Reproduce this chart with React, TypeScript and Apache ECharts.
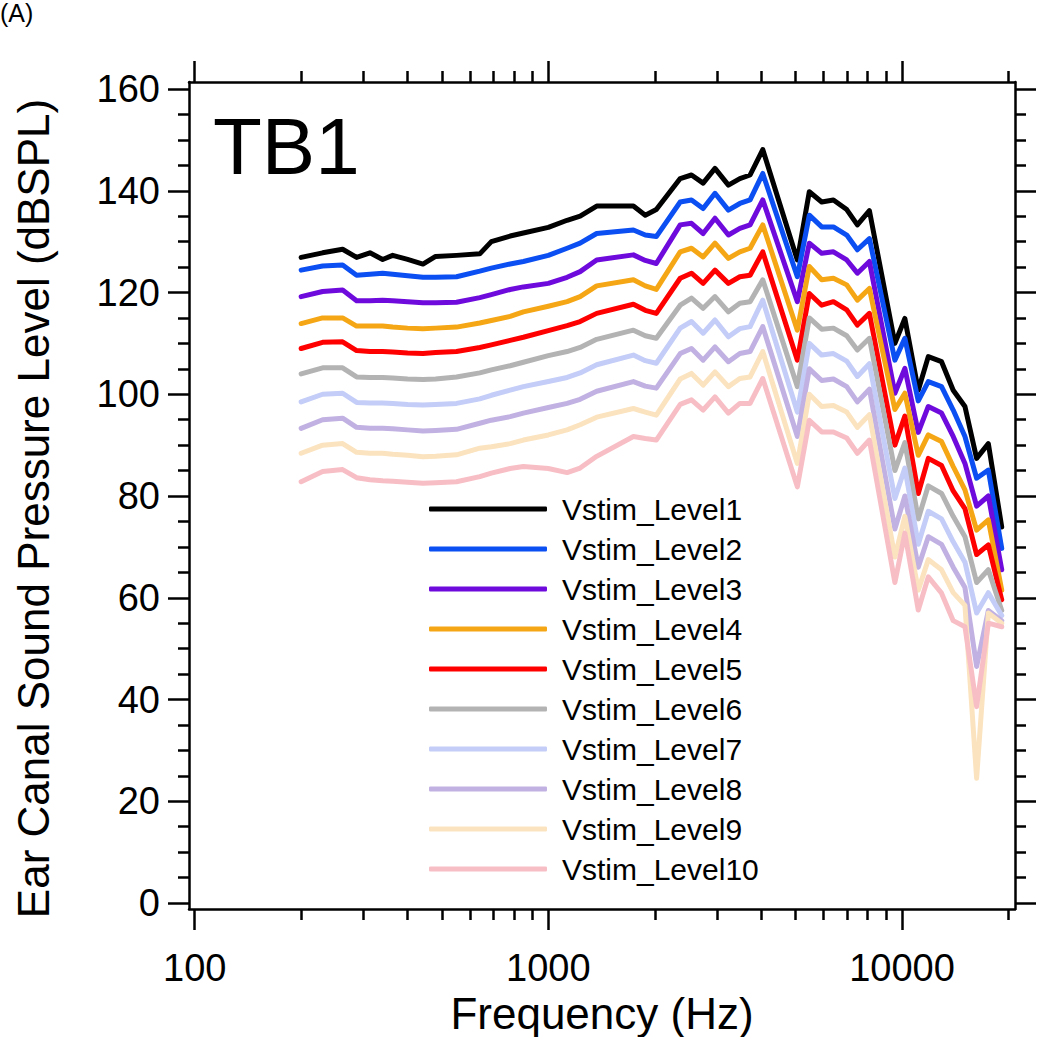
import React, { useEffect, useRef } from "react";
import * as echarts from "echarts";

// Frequencies (Hz) of the measured points
const FREQ = [200, 230, 262, 287, 313, 340, 363, 400, 442, 480, 550, 640, 690, 780, 850,
  1000, 1130, 1230, 1370, 1740, 1880, 2020, 2360, 2540, 2740, 2960, 3230, 3480, 3720, 4040,
  5060, 5470, 5930, 6400, 6980, 7480, 8090,
  9550, 10190, 11120, 11870, 12940, 13960, 15070, 16260, 17550, 19150];

const LEVEL1 = [126.9, 127.8, 128.5, 126.9, 127.8, 126.5, 127.3, 126.5, 125.6, 127.1, 127.3, 127.6, 130.0, 131.1, 131.7,
  132.8, 134.2, 135.0, 137.0, 137.0, 135.2, 136.3, 142.4, 143.1, 141.5, 144.4, 141.1, 142.4, 143.1, 148.1,
  126.4, 139.8, 137.8, 138.2, 136.3, 133.3, 136.1,
  110.0, 114.9, 100.8, 107.4, 106.4, 100.8, 97.6, 87.4, 90.3, 73.9];
const LEVEL2 = [124.4, 125.2, 125.4, 123.4, 123.6, 123.8, 123.6, 123.3, 123.0, 123.0, 123.1, 124.2, 124.8, 125.6, 126.1,
  127.3, 128.7, 129.7, 131.6, 132.3, 131.3, 131.0, 137.8, 138.2, 136.5, 139.5, 136.2, 137.5, 138.2, 143.4,
  123.1, 135.2, 132.9, 132.9, 131.3, 128.4, 130.6,
  106.7, 111.0, 98.7, 102.5, 101.5, 96.9, 91.7, 83.5, 85.1, 69.7];
const LEVEL3 = [119.2, 120.2, 120.5, 118.4, 118.4, 118.5, 118.4, 118.2, 118.0, 118.0, 118.1, 119.0, 119.6, 120.6, 121.1,
  121.8, 123.0, 124.1, 126.4, 127.4, 126.3, 125.7, 133.3, 133.6, 131.6, 134.6, 131.3, 132.6, 133.3, 138.2,
  118.2, 129.7, 127.7, 128.0, 126.4, 123.8, 126.1,
  100.2, 105.1, 92.5, 97.6, 96.3, 91.7, 86.4, 78.0, 80.0, 65.5];
const LEVEL4 = [113.9, 115.0, 115.0, 113.4, 113.4, 113.4, 113.2, 113.0, 112.9, 113.0, 113.2, 114.0, 114.5, 115.3, 116.2,
  117.3, 118.2, 119.2, 121.3, 122.5, 121.3, 120.6, 128.0, 128.7, 127.0, 129.7, 126.7, 128.0, 128.7, 133.3,
  112.6, 125.1, 122.5, 122.8, 121.5, 118.5, 120.8,
  97.0, 100.2, 88.0, 92.0, 90.7, 85.8, 81.2, 73.3, 75.3, 61.5];
const LEVEL5 = [109.0, 110.2, 110.3, 108.6, 108.4, 108.4, 108.3, 108.1, 108.0, 108.2, 108.4, 109.2, 109.7, 110.6, 111.2,
  112.5, 113.5, 114.3, 115.9, 117.7, 116.5, 115.9, 122.8, 123.8, 121.8, 124.4, 121.8, 123.1, 123.4, 128.0,
  106.7, 119.8, 117.5, 118.2, 116.6, 113.6, 115.9,
  90.0, 95.7, 80.5, 87.4, 86.0, 81.0, 77.5, 68.5, 70.4, 59.6];
const LEVEL6 = [104.0, 105.2, 105.2, 103.4, 103.3, 103.3, 103.2, 103.0, 102.9, 103.0, 103.4, 104.2, 104.8, 105.6, 106.3,
  107.6, 108.4, 109.2, 110.8, 112.6, 111.5, 111.0, 117.5, 118.9, 116.9, 119.2, 116.2, 117.9, 118.2, 122.5,
  101.5, 115.0, 112.8, 113.0, 111.5, 108.7, 111.0,
  85.0, 90.5, 75.5, 82.0, 80.5, 76.0, 72.0, 63.0, 65.5, 57.5];
const LEVEL7 = [98.5, 100.0, 100.2, 98.4, 98.3, 98.3, 98.2, 98.0, 97.9, 98.0, 98.2, 99.1, 99.8, 100.8, 101.5,
  102.5, 103.3, 104.2, 105.8, 107.7, 106.6, 106.1, 113.0, 114.3, 112.0, 114.6, 111.3, 112.9, 113.3, 118.5,
  96.5, 110.0, 107.7, 108.0, 106.5, 103.5, 106.0,
  79.5, 85.5, 70.5, 77.0, 75.5, 71.0, 67.0, 57.0, 61.0, 56.5];
const LEVEL8 = [93.3, 95.0, 95.3, 93.5, 93.3, 93.3, 93.2, 93.0, 92.8, 92.9, 93.1, 94.3, 94.9, 95.6, 96.3,
  97.4, 98.2, 99.0, 100.6, 102.5, 101.6, 101.2, 108.0, 109.0, 106.7, 109.3, 106.4, 108.0, 108.4, 113.3,
  91.7, 105.0, 102.7, 103.0, 101.5, 98.5, 101.0,
  73.5, 80.0, 66.0, 72.0, 70.5, 66.0, 62.0, 46.5, 57.5, 55.5];
const LEVEL9 = [88.4, 90.0, 90.3, 88.6, 88.4, 88.4, 88.2, 88.0, 87.7, 87.8, 88.1, 89.4, 89.7, 90.3, 91.0,
  92.0, 93.0, 94.0, 95.5, 97.2, 96.5, 95.9, 103.0, 104.1, 101.8, 104.4, 101.5, 103.1, 103.4, 108.4,
  86.4, 100.0, 97.6, 97.8, 96.5, 93.5, 96.0,
  68.0, 76.0, 61.5, 67.5, 65.5, 61.0, 58.5, 24.5, 57.0, 55.0];
const LEVEL10 = [82.8, 84.8, 85.2, 83.6, 83.2, 83.0, 82.9, 82.7, 82.5, 82.6, 82.8, 83.8, 84.5, 85.4, 85.8,
  85.4, 84.6, 85.5, 87.8, 91.7, 91.3, 91.0, 98.0, 98.9, 96.9, 99.5, 96.3, 98.2, 98.2, 103.1,
  81.8, 94.9, 92.6, 92.6, 91.4, 88.4, 91.0,
  63.0, 72.7, 57.6, 64.1, 60.9, 55.5, 54.3, 38.6, 55.0, 54.3];

const SERIES_NAMES = ["Vstim_Level1", "Vstim_Level2", "Vstim_Level3", "Vstim_Level4", "Vstim_Level5",
  "Vstim_Level6", "Vstim_Level7", "Vstim_Level8", "Vstim_Level9", "Vstim_Level10"];
const SERIES_VALUES = [LEVEL1, LEVEL2, LEVEL3, LEVEL4, LEVEL5, LEVEL6, LEVEL7, LEVEL8, LEVEL9, LEVEL10];
const COLORS = ["#000000", "#0b4ef2", "#6e0bdc", "#f5a614", "#ff0000",
  "#b3b3b3", "#c3cdf7", "#c1b1e2", "#fbe3bf", "#f8bec5"];

const X_MAJOR = [100, 1000, 10000];
const X_MINOR = [200, 300, 400, 500, 600, 700, 800, 900, 2000, 3000, 4000, 5000, 6000, 7000, 8000, 9000, 20000];
const Y_MAJOR = [0, 20, 40, 60, 80, 100, 120, 140, 160];
const Y_MINOR = [5, 10, 15, 25, 30, 35, 45, 50, 55, 65, 70, 75, 85, 90, 95, 105, 110, 115, 125, 130, 135, 145, 150, 155];

const X_MIN = 96.36;
const X_MAX = 20876;
const Y_MIN = -1.18;
const Y_MAX = 161.38;

const FONT = "'Liberation Sans', Arial, sans-serif";

export default function App() {
  const ref = useRef<HTMLDivElement>(null);
  useEffect(() => {
    if (!ref.current) return;
    const chart = echarts.init(ref.current, undefined, { renderer: "svg" });
    const axisLine = { show: true, onZero: false, lineStyle: { color: "#000", width: 2.5 } };
    const tickStyle = { color: "#000", width: 2.5 };
    const makeX = (pos: string, major: boolean, withLine: boolean, withLabel: boolean, name?: string) => ({
      type: "log",
      gridIndex: 0,
      position: pos,
      min: X_MIN,
      max: X_MAX,
      logBase: 10,
      axisLine: withLine ? axisLine : { show: false, onZero: false },
      axisTick: {
        show: true,
        inside: false,
        length: major ? 21 : 11,
        customValues: major ? X_MAJOR : X_MINOR,
        lineStyle: tickStyle,
      },
      axisLabel: withLabel
        ? {
            show: true,
            customValues: X_MAJOR,
            margin: 40,
            color: "#000",
            fontSize: 38,
            fontFamily: FONT,
            formatter: (v: number) => String(Math.round(v)),
          }
        : { show: false },
      splitLine: { show: false },
      minorTick: { show: false },
      name: name,
      nameLocation: "middle",
      nameGap: 71,
      nameTextStyle: { fontSize: 44, fontFamily: FONT, color: "#000" },
    });
    const makeY = (pos: string, major: boolean, withLine: boolean, withLabel: boolean, name?: string) => ({
      type: "value",
      gridIndex: 0,
      position: pos,
      min: Y_MIN,
      max: Y_MAX,
      axisLine: withLine ? axisLine : { show: false, onZero: false },
      axisTick: {
        show: true,
        inside: false,
        length: major ? 21 : 11,
        customValues: major ? Y_MAJOR : Y_MINOR,
        lineStyle: tickStyle,
      },
      axisLabel: withLabel
        ? {
            show: true,
            customValues: Y_MAJOR,
            margin: 29,
            color: "#000",
            fontSize: 38,
            fontFamily: FONT,
          }
        : { show: false },
      splitLine: { show: false },
      name: name,
      nameLocation: "middle",
      nameGap: 134,
      nameTextStyle: { fontSize: 44, fontFamily: FONT, color: "#000", padding: [0, 26, 0, 0] },
    });

    chart.setOption({
      animation: false,
      backgroundColor: "#ffffff",
      grid: { left: 189, top: 82, width: 826, height: 827, containLabel: false, outerBoundsMode: "none" },
      xAxis: [
        makeX("bottom", true, true, true, "Frequency (Hz)"),
        makeX("bottom", false, false, false),
        makeX("top", true, true, false),
        makeX("top", false, false, false),
      ],
      yAxis: [
        makeY("left", true, true, true, "Ear Canal Sound Pressure Level (dBSPL)"),
        makeY("left", false, false, false),
        makeY("right", true, true, false),
        makeY("right", false, false, false),
      ],
      legend: {
        show: true,
        orient: "vertical",
        left: 429,
        top: 494,
        icon: "roundRect",
        itemWidth: 118,
        itemHeight: 5,
        itemGap: 10,
        padding: 0,
        data: SERIES_NAMES,
        textStyle: { fontSize: 30, fontFamily: FONT, color: "#000", lineHeight: 30, padding: [0, 0, 0, 10] },
      },
      graphic: [
        {
          type: "text",
          left: 213,
          top: 106,
          style: { text: "TB1", font: `80px ${FONT}`, fill: "#000" },
        },
        {
          type: "text",
          left: 0,
          top: 0,
          style: { text: "(A)", font: `25px ${FONT}`, fill: "#000" },
        },
      ],
      series: SERIES_NAMES.map((name, i) => ({
        name,
        type: "line",
        xAxisIndex: 0,
        yAxisIndex: 0,
        symbol: "none",
        showSymbol: false,
        lineStyle: { color: COLORS[i], width: 5, cap: "round", join: "round" },
        itemStyle: { color: COLORS[i] },
        data: FREQ.map((f, j) => [f, SERIES_VALUES[i][j]]),
      })),
    });
    return () => chart.dispose();
  }, []);
  return (
    <div
      ref={ref}
      style={{ position: "fixed", left: 0, top: 0, width: 1050, height: 1037, background: "#fff" }}
    />
  );
}
